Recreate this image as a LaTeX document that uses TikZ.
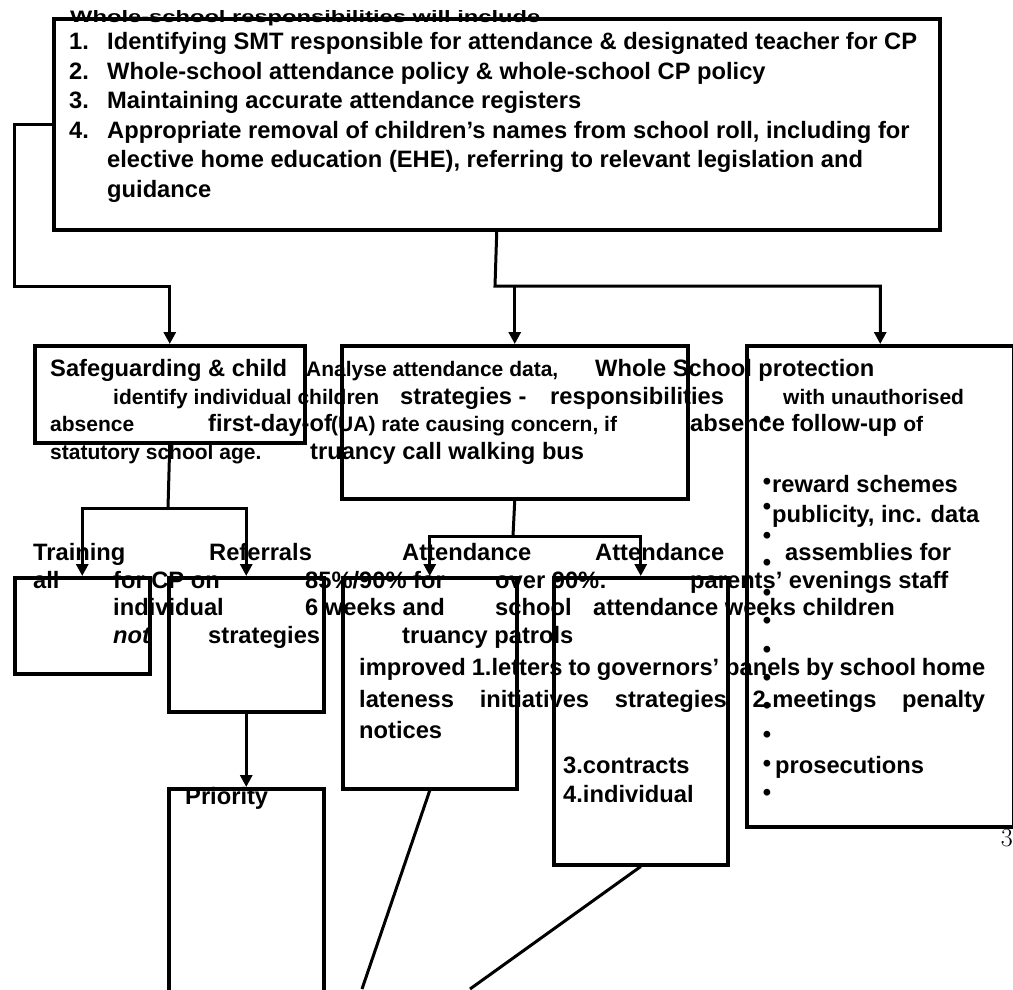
\documentclass[tikz,border=0pt]{standalone}
\usepackage{fontspec}
\usetikzlibrary{arrows.meta,positioning}
\newfontfamily\arialfont{Liberation Sans}
\newcommand\bigtxt{\arialfont\bfseries\fontsize{23.7}{28}\selectfont}
\newcommand\smalltxt{\arialfont\bfseries\fontsize{21}{25}\selectfont}

\begin{document}
\begin{tikzpicture}[x=1pt,y=-1pt,
  box/.style={draw,line width=3.5pt,anchor=north west,inner sep=0pt},
  link/.style={line width=3pt},
  arr/.style={link,-{Triangle[length=12pt,width=12pt]}},
  txt/.style={anchor=base west,inner sep=0pt,font=\bigtxt},
  smtxt/.style={txt,font=\smalltxt},
  dot/.style={inner sep=0pt,font=\bigtxt}]
   \useasboundingbox (0,0) rectangle (1013,989);
   \clip (0,0) rectangle (1013,989);
   \node [box,minimum width=886pt,minimum height=211pt] (duties) at (52,17) {};
   \node [box,minimum width=270pt,minimum height=97pt] (safe) at (33,344) {};
   \node [box,minimum width=346pt,minimum height=153pt] (strat) at (340,344) {};
   \node [box,minimum width=267pt,minimum height=481pt] (prot) at (745,344) {};
   \node [box,minimum width=135pt,minimum height=96pt] (train) at (13,576) {};
   \node [box,minimum width=155pt,minimum height=134pt] (refer) at (167,576) {};
   \node [box,minimum width=174pt,minimum height=211pt] (lowatt) at (341,576) {};
   \node [box,minimum width=174pt,minimum height=287pt] (highatt) at (552,576) {};
   \node [box,minimum width=155pt,minimum height=220pt] (prio) at (167,787) {};
   \coordinate (jl) at (14,286);
   \coordinate (jm) at (495,286);
   \coordinate (js) at (168,508);
   \coordinate (ja) at (513,536);
   \coordinate (e1) at (362,989);
   \coordinate (e2) at (470,989);
   \draw [arr] (duties.west) -| (jl) -| (safe.north);
   \draw [arr] (duties.south) -- (jm) -| (prot.north);
   \draw [arr] (jm -| strat.north) -- (strat.north);
   \draw [link] (safe.south) -- (js);
   \draw [arr] (js) -| (train.north);
   \draw [arr] (js) -| (refer.north);
   \draw [link] (strat.south) -- (ja);
   \draw [arr] (ja) -| (lowatt.north);
   \draw [arr] (ja) -| (highatt.north);
   \draw [arr] (refer.south) -- (prio.north);
   \draw [link] (lowatt.south) -- (e1);
   \draw [link] (highatt.south) -- (e2);
   % text of the top box
   \node [txt] (ttl) at (70,22) {\scalebox{1}[0.7]{Whole-school responsibilities will include}};
   \node [txt] (n1) at (69,49) {1.};
   \node [txt] (i1) at (107,49) {Identifying SMT responsible for attendance \& designated teacher for CP};
   \node [txt] (n2) at (69,79) {2.};
   \node [txt] (i2) at (107,79) {Whole-school attendance policy \& whole-school CP policy};
   \node [txt] (n3) at (69,108) {3.};
   \node [txt] (i3) at (107,108) {Maintaining accurate attendance registers};
   \node [txt] (n4) at (69,138) {4.};
   \node [txt] (i4) at (107,138) {Appropriate removal of children’s names from school roll, including for};
   \node [txt] (i4b) at (107,167) {elective home education (EHE), referring to relevant legislation and};
   \node [txt] (i4c) at (107,197) {guidance};
   % second row
   \node [txt] (sg1) at (50,376) {Safeguarding \& child};
   \node [smtxt] (an1) at (306,376) {Analyse attendance data,};
   \node [txt] (ws1) at (595,376) {Whole School protection};
   \node [smtxt] (id2) at (113,404) {identify individual children};
   \node [txt] (st2) at (400,404) {strategies -};
   \node [txt] (re2) at (550,404) {responsibilities};
   \node [smtxt] (wu2) at (783,404) {with unauthorised};
   \node [smtxt] (ab3) at (50,431) {absence};
   \node [txt] (fd3) at (208,431) {first-day-of};
   \node [smtxt] (ua3) at (331,431) {(UA) rate causing concern, if};
   \node [txt] (af3) at (690,431) {absence follow-up};
   \node [smtxt,base right=6pt of af3] (of3) {of};
   \node [smtxt] (ss4) at (50,459) {statutory school age.};
   \node [txt] (tc4) at (310,459) {truancy call walking bus};
   \node [txt] (rs) at (772,492) {reward schemes};
   \node [txt] (pb) at (772,522) {publicity, inc. data};
   % third row
   \node [txt] (tr) at (33,560) {Training};
   \node [txt] (rf) at (209,560) {Referrals};
   \node [txt] (at1) at (402,560) {Attendance};
   \node [txt] (at2) at (595,560) {Attendance};
   \node [txt] (as) at (785,560) {assemblies for};
   \node [txt] (al) at (33,588) {all};
   \node [txt] (fc) at (113,588) {for CP on};
   \node [txt] (pc) at (305,588) {85\%/90\% for};
   \node [txt] (ov) at (495,588) {over 90\%:};
   \node [txt] (pe) at (690,588) {parents’ evenings staff};
   \node [txt] (iv) at (113,615) {individual};
   \node [txt] (sw) at (305,615) {6 weeks and};
   \node [txt] (sc) at (495,615) {school};
   \node [txt] (aw) at (593,615) {attendance weeks children};
   \node [txt] (nt) at (113,643) {\itshape not};
   \node [txt] (sgs) at (208,643) {strategies:};
   \node [txt] (tp) at (402,643) {truancy patrols};
   \node [txt] (im) at (359,675) {\makebox[626pt][s]{improved 1.letters to governors’ panels by school home}};
   \node [txt] (la) at (359,707) {\makebox[626pt][s]{lateness initiatives strategies 2.meetings penalty}};
   \node [txt] (no) at (359,738) {notices};
   \node [txt] (ct) at (563,773) {3.contracts};
   \node [txt] (pr) at (775,773) {prosecutions};
   \node [txt] (iv2) at (563,802) {4.individual};
   \node [txt] (pri) at (185,804) {Priority};
   % bullets
   \node [dot] (b1) at (767,422) {•};  \node [dot] (b2) at (767,484) {•};
   \node [dot] (b3) at (767,509) {•};  \node [dot] (b4) at (767,538) {•};
   \node [dot] (b5) at (767,565) {•};  \node [dot] (b6) at (767,595) {•};
   \node [dot] (b7) at (767,623) {•};  \node [dot] (b8) at (767,652) {•};
   \node [dot] (b9) at (767,680) {•};  \node [dot] (b10) at (767,708) {•};
   \node [dot] (b11) at (767,737) {•}; \node [dot] (b12) at (767,766) {•};
   \node [dot] (b13) at (767,795) {•};
   \node [anchor=base east,inner sep=0pt,font=\fontsize{26}{28}\selectfont] (pg) at (1013,846) {3};
\end{tikzpicture}
\end{document}
